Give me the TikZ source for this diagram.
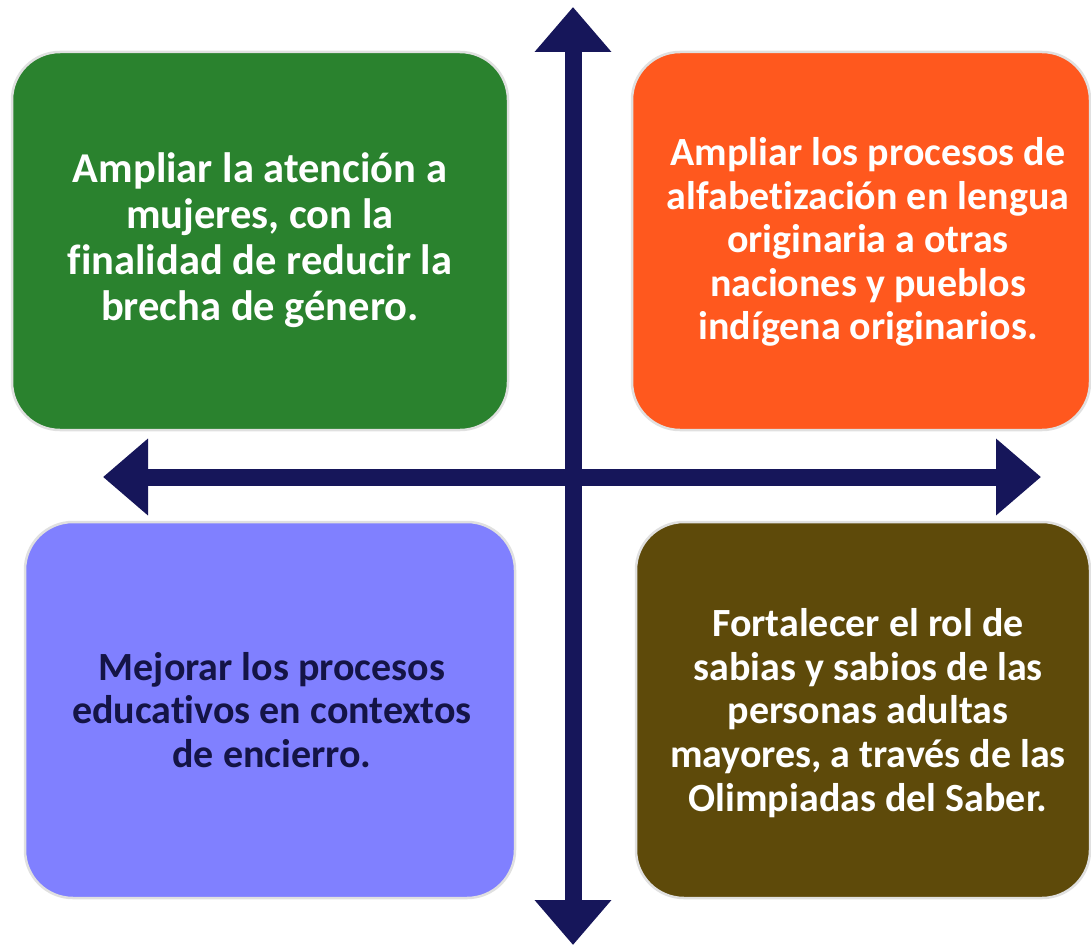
\documentclass[tikz,border=0pt]{standalone}
\usepackage{fontspec}
\setmainfont{Carlito}[Ligatures=NoCommon]
\usetikzlibrary{arrows.meta}
\definecolor{cgreen}{RGB}{42,130,46}
\definecolor{corange}{RGB}{255,88,30}
\definecolor{cblue}{RGB}{128,128,255}
\definecolor{cbrown}{RGB}{94,74,10}
\definecolor{cnavy}{RGB}{22,22,90}
\definecolor{ctext}{RGB}{20,20,70}
\tikzset{
  quad/.style={draw=black!12, line width=2.5pt, rounded corners=48pt},
  lbl/.style={align=center, font=\fontsize{40}{43.6}\selectfont\bfseries},
  lblbig/.style={align=center, font=\fontsize{42.5}{46}\selectfont\bfseries},
  axis/.style={cnavy, line width=17pt, {Triangle[length=45pt,width=74pt]}-{Triangle[length=45pt,width=74pt]}}
}
\begin{document}
\begin{tikzpicture}[x=1pt,y=-1pt]
\useasboundingbox (0,0) rectangle (1091,947);
\fill[white] (0,0) rectangle (1091,947);
% boxes
\filldraw[quad, fill=cgreen] (12,52) rectangle (508,430);
\filldraw[quad, fill=corange] (632,52) rectangle (1090,430);
\filldraw[quad, fill=cblue] (25,522) rectangle (515,898);
\filldraw[quad, fill=cbrown] (636,522) rectangle (1090,898);
% axes
\coordinate (top) at (573,7);
\coordinate (bottom) at (573,945);
\coordinate (left) at (103,477);
\coordinate (right) at (1041,477);
\draw[axis] (left) -- (right);
\draw[axis] (top) -- (bottom);
% labels
\node[lblbig, text=white] (t1) at (260,240) {Ampliar la atención a\\mujeres, con la\\finalidad de reducir la\\brecha de género.};
\node[lbl, text=white] (t2) at (868,242) {Ampliar los procesos de\\alfabetización en lengua\\originaria a otras\\naciones y pueblos\\indígena originarios.};
\node[lbl, text=ctext] (t3) at (272,710) {Mejorar los procesos\\educativos en contextos\\de encierro.};
\node[lbl, text=white] (t4) at (868,713) {Fortalecer el rol de\\sabias y sabios de las\\personas adultas\\mayores, a través de las\\Olimpiadas del Saber.};
\end{tikzpicture}
\end{document}
